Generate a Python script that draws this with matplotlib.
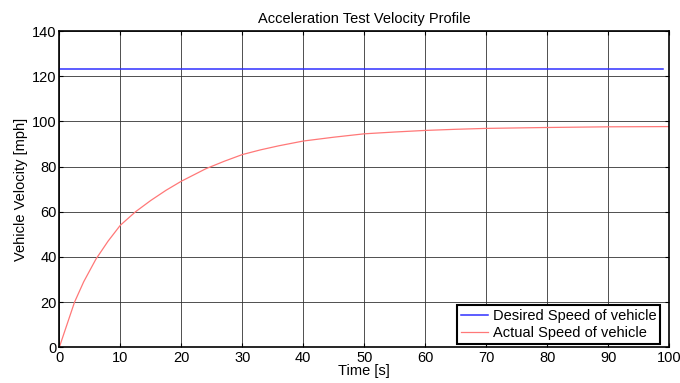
import matplotlib
matplotlib.use('Agg')
import matplotlib.pyplot as plt
import numpy as np

plt.rcParams['font.family'] = ['Liberation Sans', 'DejaVu Sans']

# velocity profile
t = [0, 1, 2.5, 4, 5, 6, 8, 10, 12.5, 15, 17.5, 20, 24, 27, 30, 33, 36, 40, 45, 50, 55, 60, 65, 70, 80, 90, 100]
actual = [0, 8, 20, 29, 34, 39, 47, 54, 60, 65, 69.5, 73.5, 79, 82.3, 85.3, 87.4, 89.2, 91.3, 93, 94.5, 95.3, 96, 96.5, 96.9, 97.3, 97.6, 97.7]
t_des = [0, 99]
desired = [123.2, 123.2]

fs = 10.5
fig = plt.figure(figsize=(6.8, 3.83), dpi=100)
ax = fig.add_axes([0.0872, 0.0932, 0.8968, 0.8258])
ax.plot(t_des, desired, color='#3030ff', lw=1.1, label='Desired Speed of vehicle')
ax.plot(t, actual, color='#ff7878', lw=0.9, label='Actual Speed of vehicle')

ax.set_xlim(0, 100)
ax.set_ylim(0, 140)
ax.set_xticks(np.arange(0, 101, 10))
ax.set_yticks(np.arange(0, 141, 20))
ax.grid(True, color='#333333', lw=0.6)
ax.tick_params(direction='in', top=True, right=True, labelsize=fs, length=3, pad=2)
ax.tick_params(axis='x', pad=3)
for s in ax.spines.values():
    s.set_linewidth(1.2)
ax.set_xlabel('Time [s]', fontsize=fs, labelpad=-1)
ax.set_ylabel('Vehicle Velocity [mph]', fontsize=fs, labelpad=3)
ax.set_title('Acceleration Test Velocity Profile', fontsize=fs, pad=6)
leg = ax.legend(loc='lower right', fontsize=fs, fancybox=False, framealpha=1,
                edgecolor='black', borderpad=0.25, handlelength=1.9, handletextpad=0.3,
                labelspacing=0.25, borderaxespad=0, bbox_to_anchor=(0.985, 0.01))
leg.get_frame().set_linewidth(1.5)
fig.savefig('out.png', dpi=100)
